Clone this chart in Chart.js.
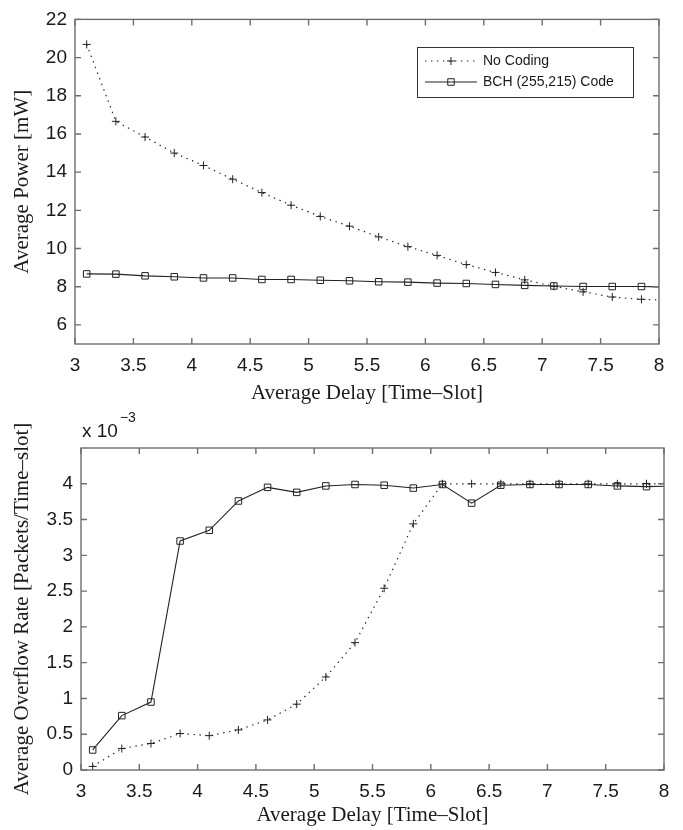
<!DOCTYPE html>
<html><head><meta charset="utf-8">
<script src="https://cdn.jsdelivr.net/npm/chart.js@4.4.1/dist/chart.umd.min.js"></script>
<style>
html,body{margin:0;padding:0;background:#fff;width:683px;height:830px;overflow:hidden}
.wrap{position:absolute;left:0;width:683px}
#w1{top:0;height:415px}
#w2{top:400px;height:430px}
canvas{display:block}
</style></head><body>
<div class="wrap" id="w1"><canvas id="c1" width="683" height="415"></canvas></div>
<div class="wrap" id="w2"><canvas id="c2" width="683" height="430"></canvas></div>
<script>
// ---- data (last point at 8.1 lies beyond the axis and is clipped) ----
const delays = [3.1,3.35,3.6,3.85,4.1,4.35,4.6,4.85,5.1,5.35,5.6,5.85,6.1,6.35,6.6,6.85,7.1,7.35,7.6,7.85,8.1];
const powerNoCoding = [20.69,16.66,15.84,15.0,14.35,13.63,12.93,12.27,11.68,11.17,10.61,10.1,9.64,9.16,8.75,8.36,8.02,7.73,7.46,7.34,7.29];
const powerBCH = [8.67,8.66,8.57,8.52,8.46,8.46,8.38,8.38,8.34,8.31,8.26,8.24,8.19,8.17,8.12,8.07,8.04,8.01,8.01,8.01,7.98];
const overflowNoCoding = [0.05,0.30,0.37,0.51,0.48,0.56,0.70,0.92,1.30,1.78,2.54,3.44,4.0,4.0,4.0,4.0,4.0,4.0,4.0,4.0,4.0];
const overflowBCH = [0.28,0.76,0.95,3.20,3.35,3.76,3.95,3.88,3.97,3.99,3.98,3.94,3.99,3.73,3.98,3.99,3.99,3.99,3.97,3.96,3.97];
const xTicks = [3,3.5,4,4.5,5,5.5,6,6.5,7,7.5,8];
const powerTicks = [6,8,10,12,14,16,18,20,22];
const overflowTicks = [0,0.5,1,1.5,2,2.5,3,3.5,4];
const seriesLabels = ['No Coding','BCH (255,215) Code'];
const xTitle = 'Average Delay [Time\u2013Slot]';
const yTitleTop = 'Average Power [mW]';
const yTitleBottom = 'Average Overflow Rate [Packets/Time\u2013slot]';
const expBase = 'x 10';
const expPower = '\u22123';

const SANS = '"Liberation Sans", Arial, Helvetica, sans-serif';
const SERIF = '"Liberation Serif", "Times New Roman", serif';
const INK = '#1a1a1a';
const AXIS = '#6e6e6e';

function pts(ys){ return delays.map((x,i)=>({x:x,y:ys[i]})); }

const boxPlugin = {
  id:'matBox',
  afterDatasetsDraw(chart){
    const {ctx, chartArea:a, scales:{x,y}} = chart;
    ctx.save();
    ctx.strokeStyle = AXIS; ctx.lineWidth = 1.4;
    ctx.strokeRect(a.left, a.top, a.right-a.left, a.bottom-a.top);
    ctx.beginPath();
    const L = 6;
    x.ticks.forEach(t=>{const p=x.getPixelForValue(t.value);
      ctx.moveTo(p,a.bottom); ctx.lineTo(p,a.bottom-L); ctx.moveTo(p,a.top); ctx.lineTo(p,a.top+L);});
    y.ticks.forEach(t=>{const p=y.getPixelForValue(t.value);
      ctx.moveTo(a.left,p); ctx.lineTo(a.left+L,p); ctx.moveTo(a.right,p); ctx.lineTo(a.right-L,p);});
    ctx.stroke();
    ctx.restore();
  }
};

function drawMarker(ctx, style, r, x, y){
  ctx.beginPath();
  if(style==='cross'){
    ctx.moveTo(x-r,y); ctx.lineTo(x+r,y); ctx.moveTo(x,y-r); ctx.lineTo(x,y+r);
  } else {
    const s = Math.SQRT1_2*r;
    ctx.rect(x-s,y-s,2*s,2*s);
  }
  ctx.stroke();
}

const legendPlugin = {
  id:'matLegend',
  afterDraw(chart, args, opts){
    if(!opts.show) return;
    const ctx = chart.ctx;
    const {left, top, width, height, rows} = opts;
    ctx.save();
    ctx.fillStyle = '#fff'; ctx.fillRect(left,top,width,height);
    ctx.strokeStyle = '#333'; ctx.lineWidth = 1;
    ctx.strokeRect(left+0.5, top+0.5, width, height);
    chart.data.datasets.forEach((ds,i)=>{
      const yy = top + rows[i];
      ctx.strokeStyle = ds.borderColor; ctx.lineWidth = ds.borderWidth;
      ctx.setLineDash(ds.borderDash || []);
      ctx.lineCap = ds.borderCapStyle || 'butt';
      ctx.beginPath(); ctx.moveTo(left+8, yy); ctx.lineTo(left+60, yy); ctx.stroke();
      ctx.setLineDash([]); ctx.lineCap='butt';
      ctx.lineWidth = 1;
      drawMarker(ctx, ds.pointStyle, ds.pointRadius, left+34, yy);
      ctx.fillStyle = INK; ctx.font = '14px ' + SANS; ctx.textBaseline = 'middle'; ctx.textAlign='left';
      ctx.fillText(ds.label, left+66, yy+0.5);
    });
    ctx.restore();
  }
};

const expPlugin = {
  id:'matExp',
  afterDraw(chart, args, opts){
    if(!opts.show) return;
    const ctx = chart.ctx;
    ctx.save();
    ctx.fillStyle = INK; ctx.textBaseline='middle'; ctx.textAlign='left';
    ctx.font = '19px ' + SANS;
    ctx.fillText(expBase, opts.x, opts.y);
    const w = ctx.measureText(expBase).width;
    ctx.font = '14px ' + SANS;
    ctx.fillText(expPower, opts.x + w + 2, opts.y - 14);
    ctx.restore();
  }
};

function datasets(noCoding, bch){
  return [
    {label: seriesLabels[0], data: pts(noCoding), borderColor: '#222', borderWidth: 1.2,
     borderDash:[1.4,4.6], borderCapStyle:'butt', pointStyle:'cross', pointRadius:4, pointBorderWidth:1,
     pointBackgroundColor:'rgba(0,0,0,0)', pointBorderColor:'#222', clip:0, fill:false, tension:0},
    {label: seriesLabels[1], data: pts(bch), borderColor: '#222', borderWidth: 1.1,
     pointStyle:'rect', pointRadius:4.6, pointBorderWidth:1,
     pointBackgroundColor:'rgba(0,0,0,0)', backgroundColor:'rgba(0,0,0,0)', pointBorderColor:'#222', clip:0, fill:false, tension:0}
  ];
}

function makeChart(id, cfg){
  return new Chart(document.getElementById(id), {
    type:'line',
    data:{datasets: datasets(cfg.noCoding, cfg.bch)},
    plugins:[boxPlugin, legendPlugin, expPlugin],
    options:{
      responsive:false, animation:false, devicePixelRatio:1,
      layout:{padding:cfg.padding},
      plugins:{legend:{display:false}, tooltip:{enabled:false},
        matLegend: cfg.legend, matExp: cfg.exp},
      scales:{
        x:{type:'linear', min:3, max:8,
          afterBuildTicks:s=>{s.ticks = xTicks.map(v=>({value:v}));},
          afterFit:s=>{s.height = cfg.xHeight;},
          grid:{display:false, drawTicks:false},
          border:{display:false},
          ticks:{autoSkip:false, maxRotation:0, padding:10, color:INK, font:{family:SANS, size:19},
            callback:v=>String(v)},
          title:{display:true, text:xTitle, color:INK, font:{family:SERIF, size:21}, padding:{top:0,bottom:cfg.xTitlePad}}
        },
        y:{type:'linear', min:cfg.yMin, max:cfg.yMax,
          afterBuildTicks:s=>{s.ticks = cfg.yTicks.map(v=>({value:v}));},
          afterFit:s=>{s.width = cfg.yWidth;},
          grid:{display:false, drawTicks:false},
          border:{display:false},
          ticks:{padding:8, color:INK, font:{family:SANS, size:19}, callback:v=>String(v)},
          title:{display:true, text:cfg.yTitle, color:INK, font:{family:SERIF, size:21}, padding:{top:9.4,bottom:0}}
        }
      }
    }
  });
}

makeChart('c1', {
  noCoding: powerNoCoding, bch: powerBCH,
  padding:{top:11, right:24, left:0, bottom:0},
  xHeight:71, yWidth:75, xTitlePad:9.4,
  yMin:5, yMax:22, yTicks: powerTicks, yTitle: yTitleTop,
  legend:{show:true, left:417, top:47, width:216, height:50, rows:[14,35]},
  exp:{show:false}
});

makeChart('c2', {
  noCoding: overflowNoCoding, bch: overflowBCH,
  padding:{top:48, right:19, left:0, bottom:0},
  xHeight:60, yWidth:81, xTitlePad:2.4,
  yMin:0, yMax:4.5, yTicks: overflowTicks, yTitle: yTitleBottom,
  legend:{show:false},
  exp:{show:true, x:82, y:32}
});
</script>
</body></html>
